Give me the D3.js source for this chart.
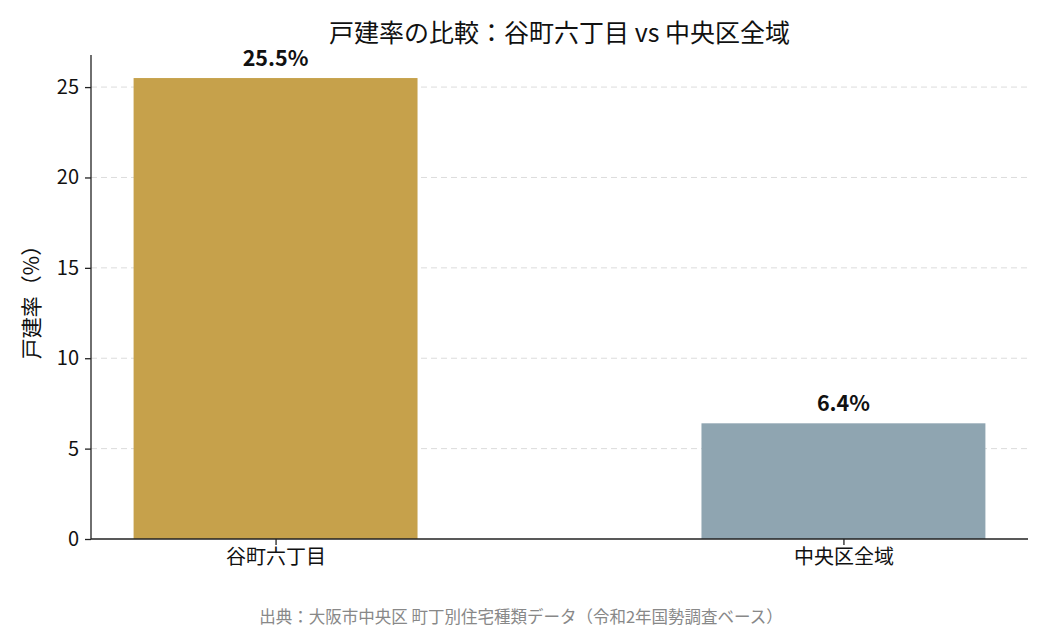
<!DOCTYPE html>
<html>
<head>
<meta charset="utf-8">
<script src="https://cdn.jsdelivr.net/npm/d3@7"></script>
<style>
  body { margin: 0; background: #fff; }
  svg { font-family: "Noto Sans CJK JP", "Noto Sans", sans-serif; }
</style>
</head>
<body>
<div class="chart"></div>
<script>
const categories = ["谷町六丁目", "中央区全域"]
const values = [25.5, 6.4]
const colors = ["#C6A14B", "#8FA5B1"]
const yTicks = [0, 5, 10, 15, 20, 25]

const width = 1050, height = 630
const padding = { left: 91, right: 22, top: 55, bottom: 91 }

const svg = d3.select(".chart").append("svg").attr("width", width).attr("height", height)

const xScale = d3.scaleLinear()
    .domain([-0.325, categories.length - 1 + 0.325])
    .range([padding.left, width - padding.right])
const yScale = d3.scaleLinear()
    .domain([0, d3.max(values) * 1.05])
    .range([height - padding.bottom, padding.top])
const barW = xScale(0.5) - xScale(0)

// grid
svg.append("g")
    .selectAll("line")
    .data(yTicks.filter(d => d > 0))
    .enter()
    .append("line")
    .attr("x1", padding.left).attr("x2", width - padding.right)
    .attr("y1", d => yScale(d)).attr("y2", d => yScale(d))
    .attr("stroke", "#dcdcdc")
    .attr("stroke-width", 1)
    .attr("stroke-dasharray", "6,4")

// bars
svg.append("g")
    .selectAll("rect")
    .data(values)
    .enter()
    .append("rect")
    .attr("x", (d, i) => xScale(i) - barW / 2)
    .attr("width", barW)
    .attr("y", d => yScale(d))
    .attr("height", d => yScale(0) - yScale(d))
    .attr("fill", (d, i) => colors[i])

// value labels
svg.append("g")
    .selectAll("text")
    .data(values)
    .enter()
    .append("text")
    .attr("x", (d, i) => xScale(i))
    .attr("y", d => yScale(d) - 12)
    .attr("text-anchor", "middle")
    .attr("font-size", 21.5)
    .attr("font-weight", "bold")
    .attr("fill", "#111")
    .text(d => d.toFixed(1) + "%")

// axes
const yAxis = svg.append("g")
    .attr("transform", "translate(" + padding.left + ",0)")
    .call(d3.axisLeft(yScale).tickValues(yTicks).tickSize(6).tickPadding(6).tickFormat(d3.format("d")))
const xAxis = svg.append("g")
    .attr("transform", "translate(0," + (height - padding.bottom) + ")")
    .call(d3.axisBottom(xScale).tickValues(d3.range(categories.length)).tickSize(6).tickPadding(5).tickFormat(i => categories[i]))

for (const ax of [yAxis, xAxis]) {
    ax.select(".domain").attr("stroke", "#222").attr("stroke-width", 1.3)
    ax.selectAll(".tick line").attr("stroke", "#222").attr("stroke-width", 1.3)
    ax.selectAll(".tick text").attr("fill", "#111").attr("font-size", 20)
        .style("font-family", '"Noto Sans CJK JP", sans-serif')
}
// matplotlib style: domain without end caps
yAxis.select(".domain").attr("d", "M0," + yScale.range()[1] + "V" + yScale.range()[0])
xAxis.select(".domain").attr("d", "M" + xScale.range()[0] + ",0H" + xScale.range()[1])

// title
svg.append("text")
    .attr("x", (padding.left + width - padding.right) / 2)
    .attr("y", 42)
    .attr("text-anchor", "middle")
    .attr("font-size", 25)
    .attr("fill", "#111")
    .text("戸建率の比較：谷町六丁目 vs 中央区全域")

// y label
svg.append("text")
    .attr("transform", "translate(39," + yScale(values[0] * 1.05 / 2) + ") rotate(-90)")
    .attr("text-anchor", "middle")
    .attr("font-size", 21)
    .attr("fill", "#111")
    .text("戸建率（%）")

// footer
svg.append("text")
    .attr("x", width / 2 - 4)
    .attr("y", 623)
    .attr("text-anchor", "middle")
    .attr("font-size", 16.5)
    .attr("fill", "#888")
    .text("出典：大阪市中央区 町丁別住宅種類データ（令和2年国勢調査ベース）")
</script>
</body>
</html>
